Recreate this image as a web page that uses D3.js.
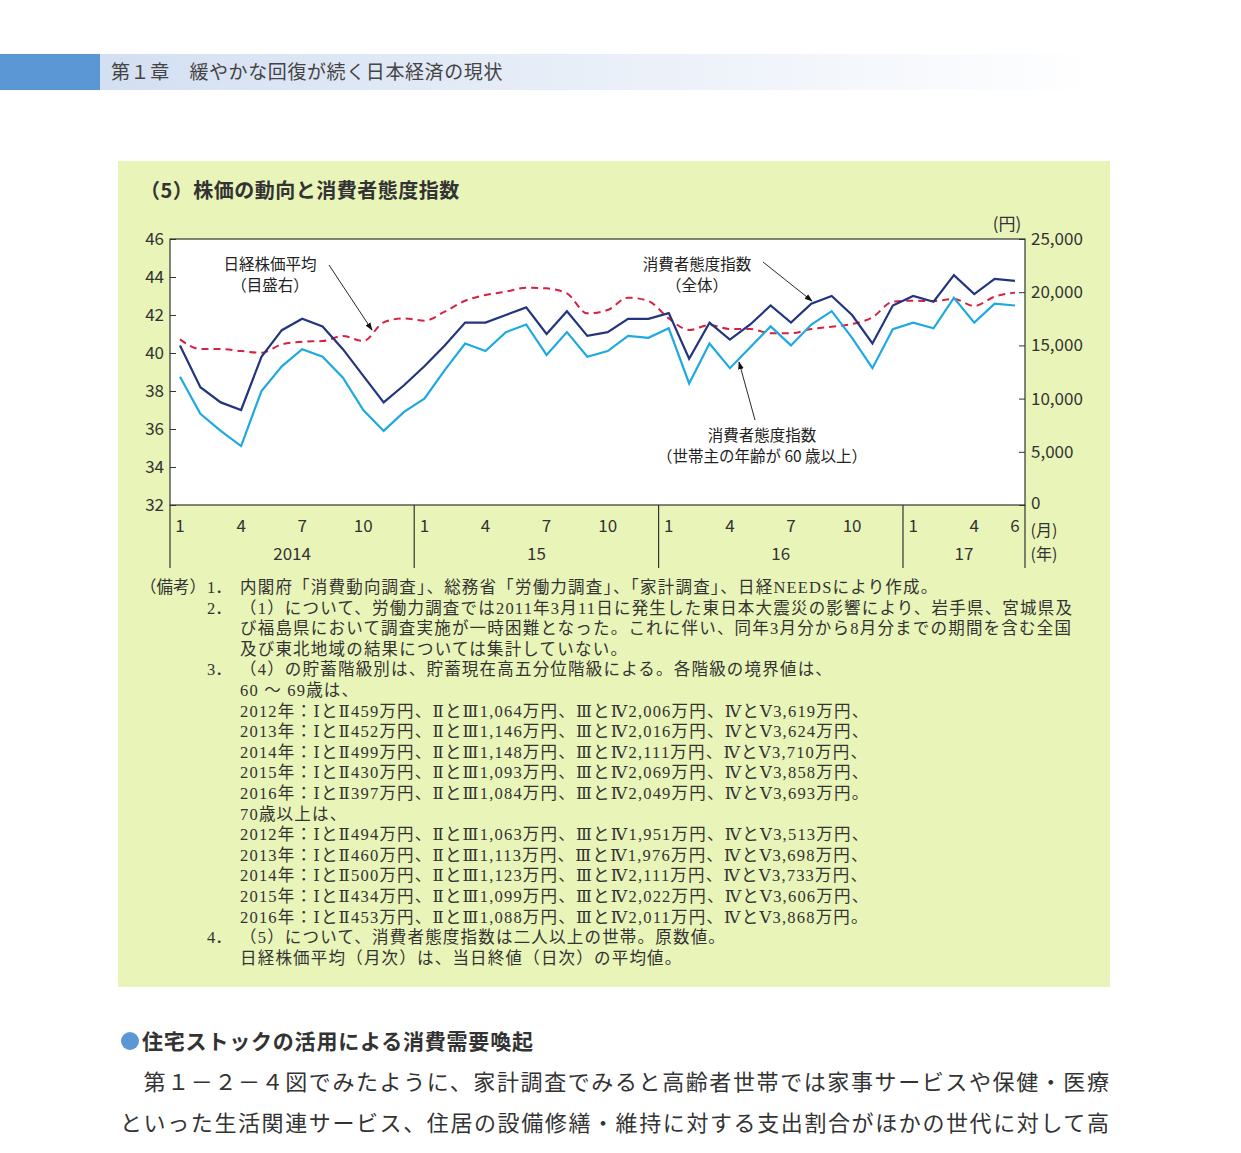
<!DOCTYPE html>
<html><head><meta charset="utf-8">
<script src="https://cdn.jsdelivr.net/npm/d3@7"></script>
<style>body{margin:0;background:#fff;}svg{display:block;}</style>
</head><body><svg id="c" width="1241" height="1153"></svg>
<script>
const months = ["2014-01","2014-02","2014-03","2014-04","2014-05","2014-06","2014-07","2014-08","2014-09","2014-10","2014-11","2014-12",
"2015-01","2015-02","2015-03","2015-04","2015-05","2015-06","2015-07","2015-08","2015-09","2015-10","2015-11","2015-12",
"2016-01","2016-02","2016-03","2016-04","2016-05","2016-06","2016-07","2016-08","2016-09","2016-10","2016-11","2016-12",
"2017-01","2017-02","2017-03","2017-04","2017-05","2017-06"];
const ciAll = [40.4,38.2,37.4,37.0,39.8,41.2,41.8,41.4,40.2,38.8,37.4,38.3,39.3,40.4,41.6,41.6,42.0,42.4,41.0,42.2,40.9,41.1,41.8,41.8,
42.1,39.7,41.6,40.7,41.5,42.5,41.6,42.6,43.0,42.0,40.5,42.5,43.0,42.7,44.1,43.1,43.9,43.8];
const ci60 = [38.75,36.8,35.9,35.1,38.0,39.3,40.2,39.8,38.7,37.0,35.9,36.9,37.6,39.1,40.5,40.1,41.1,41.5,39.9,41.1,39.8,40.1,40.9,40.8,
41.3,38.4,40.5,39.2,40.3,41.4,40.4,41.5,42.2,40.8,39.2,41.25,41.6,41.3,42.9,41.6,42.6,42.5];
const nikkei = [15570,14660,14660,14470,14310,15100,15350,15410,15880,15410,17170,17540,17320,18170,19200,19740,20050,20430,20360,19890,18010,18330,19490,19170,
17540,16450,16920,16540,16540,16140,16140,16540,16760,17010,17640,19110,19200,19170,19360,18700,19580,19960];
const leftTicks = [32,34,36,38,40,42,44,46];
const rightTicks = [0,5000,10000,15000,20000,25000];
const monthLabels = [1,4,7,10];
const years = [{y:2014,label:"2014"},{y:2015,label:"15"},{y:2016,label:"16"},{y:2017,label:"17"}];
const notes = [
 ["（備考）","1．","内閣府「消費動向調査」、総務省「労働力調査」、「家計調査」、日経NEEDSにより作成。"],
 ["","2．","（1）について、労働力調査では2011年3月11日に発生した東日本大震災の影響により、岩手県、宮城県及"],
 ["","","び福島県において調査実施が一時困難となった。これに伴い、同年3月分から8月分までの期間を含む全国"],
 ["","","及び東北地域の結果については集計していない。"],
 ["","3．","（4）の貯蓄階級別は、貯蓄現在高五分位階級による。各階級の境界値は、"],
 ["","","60 ～ 69歳は、"],
 ["","","2012年：ⅠとⅡ459万円、ⅡとⅢ1,064万円、ⅢとⅣ2,006万円、ⅣとⅤ3,619万円、"],
 ["","","2013年：ⅠとⅡ452万円、ⅡとⅢ1,146万円、ⅢとⅣ2,016万円、ⅣとⅤ3,624万円、"],
 ["","","2014年：ⅠとⅡ499万円、ⅡとⅢ1,148万円、ⅢとⅣ2,111万円、ⅣとⅤ3,710万円、"],
 ["","","2015年：ⅠとⅡ430万円、ⅡとⅢ1,093万円、ⅢとⅣ2,069万円、ⅣとⅤ3,858万円、"],
 ["","","2016年：ⅠとⅡ397万円、ⅡとⅢ1,084万円、ⅢとⅣ2,049万円、ⅣとⅤ3,693万円。"],
 ["","","70歳以上は、"],
 ["","","2012年：ⅠとⅡ494万円、ⅡとⅢ1,063万円、ⅢとⅣ1,951万円、ⅣとⅤ3,513万円、"],
 ["","","2013年：ⅠとⅡ460万円、ⅡとⅢ1,113万円、ⅢとⅣ1,976万円、ⅣとⅤ3,698万円、"],
 ["","","2014年：ⅠとⅡ500万円、ⅡとⅢ1,123万円、ⅢとⅣ2,111万円、ⅣとⅤ3,733万円、"],
 ["","","2015年：ⅠとⅡ434万円、ⅡとⅢ1,099万円、ⅢとⅣ2,022万円、ⅣとⅤ3,606万円、"],
 ["","","2016年：ⅠとⅡ453万円、ⅡとⅢ1,088万円、ⅢとⅣ2,011万円、ⅣとⅤ3,868万円。"],
 ["","4．","（5）について、消費者態度指数は二人以上の世帯。原数値。"],
 ["","","日経株価平均（月次）は、当日終値（日次）の平均値。"]
];

const svg = d3.select("#c");
const sans = "'Noto Sans CJK JP','Noto Sans',sans-serif";
const serif = "'Liberation Serif','DejaVu Serif','Noto Sans CJK JP',serif";

const g0 = svg.append("defs").append("linearGradient").attr("id","hg");
g0.append("stop").attr("offset","0").attr("stop-color","#d3dff2");
g0.append("stop").attr("offset","1").attr("stop-color","#ffffff");
svg.append("rect").attr("x",0).attr("y",54).attr("width",100).attr("height",36).attr("fill","#5b97d5");
svg.append("rect").attr("x",100).attr("y",54).attr("width",1000).attr("height",36).attr("fill","url(#hg)");
svg.append("text").attr("x",111).attr("y",79).attr("font-family",sans).attr("font-size",19).attr("letter-spacing",0.6).attr("fill","#444").text("第１章　緩やかな回復が続く日本経済の現状");

svg.append("rect").attr("x",118).attr("y",161).attr("width",992).attr("height",826).attr("fill","#e9f4b9");
svg.append("text").attr("x",140).attr("y",198).attr("font-family",sans).attr("font-size",20).attr("font-weight","bold").attr("letter-spacing",0.5).attr("fill","#333").text("（5）株価の動向と消費者態度指数");

const L=170,R=1025,T=239,B=505;
const x = d3.scalePoint().domain(months).range([180,1015]);
const yL = d3.scaleLinear().domain([32,46]).range([B,T]);
const yR = d3.scaleLinear().domain([0,25000]).range([B,T]);

svg.append("rect").attr("x",L).attr("y",T).attr("width",R-L).attr("height",B-T).attr("fill","#fff");

const la = svg.append("g").attr("transform",`translate(${L},0)`).call(d3.axisLeft(yL).tickValues(leftTicks).tickSize(-6).tickPadding(8));
const ra = svg.append("g").attr("transform",`translate(${R},0)`).call(d3.axisRight(yR).tickValues(rightTicks).tickSize(-6).tickPadding(6).tickFormat(d3.format(",")));
[la,ra].forEach(a=>{a.select(".domain").remove();a.selectAll("line").attr("stroke","#333");
 a.selectAll("text").attr("font-family",sans).attr("font-size",17).attr("fill","#333");});
ra.selectAll("text").attr("x",6);
la.selectAll("text").attr("x",-6);
ra.selectAll(".tick").filter(d=>d===0).select("text").attr("dy","0.2em");

const fr = svg.append("g").attr("stroke","#333").attr("stroke-width",1.2).attr("fill","none");
fr.append("rect").attr("x",L).attr("y",T).attr("width",R-L).attr("height",B-T);
const sep = [L, (x("2014-12")+x("2015-01"))/2, (x("2015-12")+x("2016-01"))/2, (x("2016-12")+x("2017-01"))/2, R];
sep.forEach(s=>fr.append("line").attr("x1",s).attr("x2",s).attr("y1",B).attr("y2",568));

const lab = svg.append("g").attr("font-family",sans).attr("font-size",17).attr("fill","#333").attr("text-anchor","middle");
years.forEach((yy,i)=>{
  const ms = yy.y===2017 ? [1,4,6] : monthLabels;
  ms.forEach(m=>lab.append("text").attr("x",x(`${yy.y}-${String(m).padStart(2,"0")}`)).attr("y",532).text(m));
  lab.append("text").attr("x",(sep[i]+sep[i+1])/2).attr("y",560).text(yy.label);
});
lab.append("text").attr("x",1044).attr("y",536).attr("font-size",16).text("(月)");
lab.append("text").attr("x",1044).attr("y",560).attr("font-size",16).text("(年)");
lab.append("text").attr("x",1007).attr("y",230).text("(円)");

const line = (arr,ys,curve)=>d3.line().x((d,i)=>x(months[i])).y(d=>ys(d)).curve(curve||d3.curveLinear)(arr);
svg.append("path").attr("d",line(nikkei,yR,d3.curveMonotoneX)).attr("fill","none").attr("stroke","#d6213f").attr("stroke-width",2).attr("stroke-dasharray","7,5");
svg.append("path").attr("d",line(ci60,yL)).attr("fill","none").attr("stroke","#1fa9e1").attr("stroke-width",2.2);
svg.append("path").attr("d",line(ciAll,yL)).attr("fill","none").attr("stroke","#24357f").attr("stroke-width",2.2);

svg.append("defs").append("marker").attr("id","ar").attr("viewBox","0 0 10 10").attr("refX",9).attr("refY",5)
 .attr("markerWidth",9).attr("markerHeight",9).attr("orient","auto").append("path").attr("d","M0,1.5L10,5L0,8.5z").attr("fill","#111");
const an = svg.append("g").attr("font-family",sans).attr("font-size",15.5).attr("fill","#222").attr("text-anchor","middle");
function note(lines,cx,cy,x1,y1,x2,y2){
  lines.forEach((t,i)=>an.append("text").attr("x",cx).attr("y",cy+i*21).text(t));
  svg.append("line").attr("x1",x1).attr("y1",y1).attr("x2",x2).attr("y2",y2).attr("stroke","#111").attr("stroke-width",0.9).attr("marker-end","url(#ar)");
}
note(["日経株価平均","（目盛右）"],270,270,329,265,372,330);
note(["消費者態度指数","（全体）"],697,270,763,262,812,301);
note(["消費者態度指数","（世帯主の年齢が 60 歳以上）"],762,441,755,420,739,362);

const nt = svg.append("g").attr("font-family",serif).attr("font-size",16.5).attr("fill","#333");
notes.forEach((r,i)=>{
  const yy = 593 + i*20.6;
  if(r[0]) nt.append("text").attr("x",140).attr("y",yy).text(r[0]);
  if(r[1]) nt.append("text").attr("x",207).attr("y",yy).text(r[1]);
  nt.append("text").attr("x",240).attr("y",yy).attr("letter-spacing",1.2).text(r[2]);
});

svg.append("circle").attr("cx",130).attr("cy",1041).attr("r",9).attr("fill","#5b97d5");
svg.append("text").attr("x",142).attr("y",1049).attr("font-family",sans).attr("font-size",21).attr("font-weight","bold").attr("letter-spacing",0.8).attr("fill","#333").text("住宅ストックの活用による消費需要喚起");
svg.append("text").attr("x",120).attr("y",1090).attr("font-family",serif).attr("font-size",22).attr("letter-spacing",1.6).attr("fill","#333").text("　第１－２－４図でみたように、家計調査でみると高齢者世帯では家事サービスや保健・医療");
svg.append("text").attr("x",120).attr("y",1131).attr("font-family",serif).attr("font-size",22).attr("letter-spacing",1.6).attr("fill","#333").text("といった生活関連サービス、住居の設備修繕・維持に対する支出割合がほかの世代に対して高");
</script></body></html>
